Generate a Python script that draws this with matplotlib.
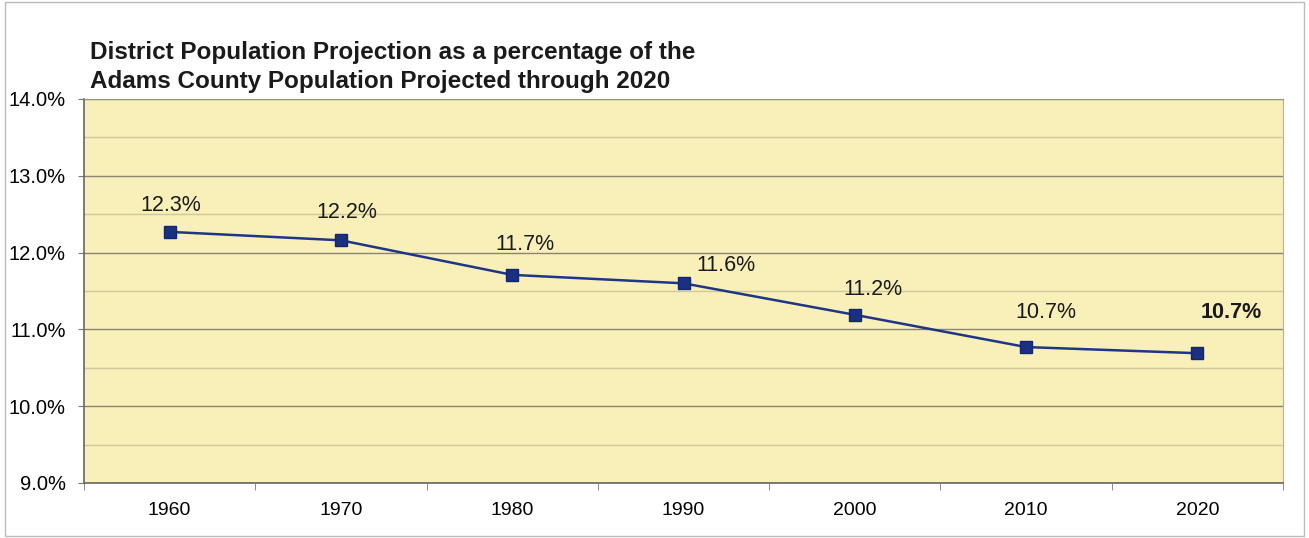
import matplotlib.pyplot as plt
from matplotlib.ticker import MultipleLocator, FixedLocator

years = ["1960", "1970", "1980", "1990", "2000", "2010", "2020"]
share = [12.27, 12.16, 11.71, 11.60, 11.19, 10.77, 10.69]
labels = ["12.3%", "12.2%", "11.7%", "11.6%", "11.2%", "10.7%", "10.7%"]
# label offsets from the marker in pixels (dx right, dy up)
offsets_px = [(1, 26), (6, 28), (13, 30), (42, 18), (18, 25), (20, 35), (34, 41)]

plt.rcParams['font.family'] = ['Liberation Sans', 'DejaVu Sans']

fig = plt.figure(figsize=(13.09, 5.38), dpi=100)
fig.patch.set_facecolor('white')
ax = fig.add_axes([84 / 1309, 1 - 483 / 538, (1283 - 84) / 1309, (483 - 99) / 538])
ax.set_facecolor('#f8efb9')

x = list(range(len(years)))
ax.plot(x, share, color='#1f3687', linewidth=1.8, marker='s', markersize=8.5,
        markerfacecolor='#1a3080', markeredgecolor='#142670', zorder=3)

for i, (val, lab) in enumerate(zip(share, labels)):
    dx, dy = offsets_px[i]
    ax.annotate(lab, (i, val), xytext=(dx * 0.72, dy * 0.72), textcoords='offset points',
                ha='center', va='center', fontsize=15.5,
                fontweight='bold' if i == len(years) - 1 else 'normal',
                color='#1a1a1a')

ax.set_xlim(-0.5, len(years) - 0.5)
ax.set_ylim(9, 14)
ax.set_yticks([9, 10, 11, 12, 13, 14])
ax.set_yticklabels(["9.0%", "10.0%", "11.0%", "12.0%", "13.0%", "14.0%"])
ax.yaxis.set_minor_locator(MultipleLocator(0.5))

ax.set_xticks(x)
ax.set_xticklabels(years)
ax.xaxis.set_minor_locator(FixedLocator([i - 0.5 for i in range(len(years) + 1)]))
ax.tick_params(axis='x', which='major', length=0, pad=14, labelsize=14)
ax.tick_params(axis='x', which='minor', length=5, color='#777777')
ax.tick_params(axis='y', which='major', length=4, color='#777777', labelsize=14.5, pad=9)
ax.tick_params(axis='y', which='minor', length=0)

ax.grid(axis='y', which='major', color='#8a8470', linewidth=1.0)
ax.grid(axis='y', which='minor', color='#cfc89a', linewidth=1.0)
ax.set_axisbelow(True)

for side in ['left', 'bottom']:
    ax.spines[side].set_color('#666666')
    ax.spines[side].set_linewidth(1.2)
ax.spines['top'].set_color('#9a9478')
ax.spines['right'].set_color('#b8b294')

fig.text(90 / 1309, 1 - 52 / 538, "District Population Projection as a percentage of the",
         fontsize=17.5, fontweight='bold', va='center', ha='left', color='#1a1a1a')
fig.text(90 / 1309, 1 - 82 / 538, "Adams County Population Projected through 2020",
         fontsize=17.5, fontweight='bold', va='center', ha='left', color='#1a1a1a')

# thin frame around the whole chart
fig.add_artist(plt.Rectangle((0.004, 0.004), 0.992, 0.992, transform=fig.transFigure,
                             fill=False, edgecolor='#bbbbbb', linewidth=1))

fig.savefig("out.png", dpi=100)
